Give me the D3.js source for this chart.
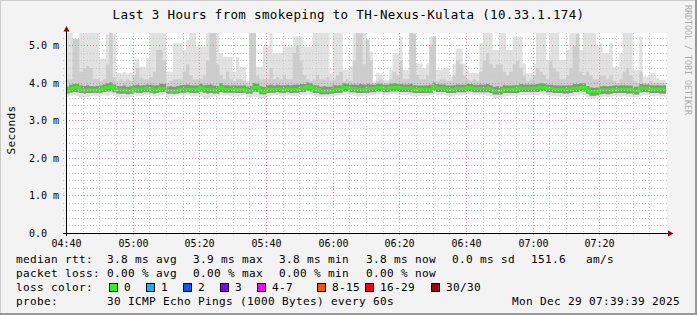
<!DOCTYPE html>
<html>
<head>
<meta charset="utf-8">
<script src="https://d3js.org/d3.v7.min.js"></script>
<style>
  body { margin: 0; background: #f3f3f3; }
  svg text { font-family: "DejaVu Sans Mono", monospace; fill: #000; }
</style>
</head>
<body>
<script>
// ---- chart values ----
const title = "Last 3 Hours from smokeping to TH-Nexus-Kulata (10.33.1.174)";
const yTicks = [0, 1, 2, 3, 4, 5];
const yTickLabels = ["0.0", "1.0 m", "2.0 m", "3.0 m", "4.0 m", "5.0 m"];
const yMax = 5.333;
const startTime = new Date(2025, 11, 29, 4, 40);
const endTime = new Date(2025, 11, 29, 7, 40);

// one value per minute (ms)
const medianRtt = [
  3.79,3.85,3.87,3.87,3.81,3.81,3.81,3.81,3.81,3.81,
  3.83,3.86,3.88,3.90,3.86,3.81,3.81,3.81,3.79,3.79,
  3.84,3.84,3.83,3.84,3.85,3.84,3.81,3.81,3.86,3.86,
  3.80,3.80,3.79,3.80,3.83,3.83,3.83,3.83,3.83,3.83,
  3.875,3.83,3.83,3.83,3.81,3.81,3.88,3.83,3.83,3.83,
  3.83,3.83,3.82,3.83,3.79,3.79,3.88,3.88,3.79,3.77,
  3.83,3.83,3.83,3.84,3.83,3.83,3.84,3.83,3.83,3.83,
  3.86,3.86,3.90,3.88,3.83,3.83,3.79,3.79,3.79,3.79,
  3.83,3.83,3.83,3.88,3.88,3.85,3.85,3.83,3.83,3.83,
  3.85,3.85,3.85,3.88,3.88,3.85,3.85,3.88,3.88,3.88,
  3.86,3.86,3.86,3.86,3.83,3.83,3.83,3.83,3.83,3.83,
  3.90,3.86,3.86,3.86,3.83,3.83,3.83,3.85,3.85,3.85,
  3.875,3.875,3.85,3.85,3.85,3.85,3.85,3.83,3.79,3.79,
  3.79,3.83,3.83,3.83,3.83,3.83,3.86,3.86,3.86,3.86,
  3.86,3.86,3.88,3.88,3.85,3.85,3.83,3.83,3.83,3.83,
  3.83,3.83,3.86,3.86,3.88,3.88,3.81,3.77,3.77,3.77,
  3.81,3.81,3.81,3.81,3.83,3.83,3.83,3.83,3.83,3.83,
  3.79,3.79,3.86,3.86,3.86,3.83,3.83,3.83,3.83,3.83
];
const maxRtt = [
  5.6,5.6,5.17,5.17,5.6,5.6,5.6,5.6,5.6,5.6,
  4.65,4.65,5.3,5.6,5.3,4.26,4.26,4.3,4.25,4.28,
  4.56,4.63,4.43,4.43,4.66,5.6,5.6,5.6,5.6,5.6,
  4.3,4.3,5.06,5.06,5.06,4.88,5.15,5.6,5.6,4.97,
  4.97,4.97,5.6,5.6,5.6,5.6,4.79,4.7,4.7,4.7,
  4.3,4.7,4.43,4.43,4.05,5.6,5.6,4.43,4.43,4.97,
  4.97,5.6,4.79,4.79,4.79,4.97,4.97,4.97,5.24,5.24,
  5.24,4.97,4.97,4.97,5.6,5.6,5.6,5.6,5.6,4.26,
  5.6,5.6,5.6,4.35,4.35,4.43,5.6,5.6,5.6,5.6,
  5.15,4.84,4.04,4.26,4.26,4.08,4.08,4.35,4.79,4.79,
  5.24,4.35,4.35,5.6,5.6,4.52,4.52,4.39,4.52,5.24,
  5.24,4.35,4.35,4.39,4.39,4.17,4.52,4.92,4.92,4.52,
  4.35,4.26,4.26,4.26,5.06,5.6,5.6,5.6,4.88,4.88,
  5.6,5.6,4.88,4.88,5.24,5.24,5.24,4.52,4.26,4.26,
  4.52,5.6,5.6,5.6,4.61,5.6,5.6,5.6,4.61,4.61,
  4.88,5.6,5.6,5.6,4.88,5.6,5.6,5.6,5.6,4.97,
  5.06,4.79,4.79,5.06,4.43,4.43,4.79,5.6,5.6,5.6,
  4.35,4.35,5.24,4.17,4.17,4.26,4.26,4.13,4.08,4.08
];
const upperRtt = [
  4.1,4.1,5.17,5.17,4.3,4.4,4.45,4.4,4.1,4.1,
  4.05,4.1,4.5,5.6,4.15,4.05,4.1,4.05,4.1,4.05,
  4.2,4.4,4.15,4.1,4.1,4.15,4.3,4.88,4.88,4.6,
  4.0,4.05,4.1,4.1,4.1,4.3,4.5,4.2,4.1,4.1,
  4.1,4.2,4.6,5.6,5.6,4.5,4.2,4.1,4.3,4.1,
  4.05,4.1,4.1,4.05,4.0,5.6,5.4,4.2,4.1,4.1,
  4.1,4.4,4.1,4.15,4.1,4.2,4.1,4.1,4.8,5.0,
  4.6,4.2,4.1,4.05,4.1,4.2,4.1,4.1,4.15,4.05,
  4.1,4.2,4.3,4.05,4.1,4.05,4.6,5.6,5.6,4.5,
  5.15,4.6,4.0,4.05,4.1,4.0,4.0,4.1,4.3,4.2,
  4.6,4.1,4.1,5.6,5.3,4.2,4.1,4.1,4.2,5.0,
  5.24,4.05,4.1,4.1,4.05,4.05,4.2,4.6,4.5,4.2,
  4.1,4.05,4.1,4.05,4.3,4.6,4.8,4.5,4.4,4.5,
  4.5,4.3,4.2,4.3,4.5,4.6,4.4,4.2,4.05,4.1,
  4.2,4.4,4.3,4.2,4.1,4.6,4.4,4.3,4.1,4.1,
  4.2,4.4,5.0,5.3,4.3,4.2,4.3,4.2,4.1,4.1,
  4.2,4.2,4.1,4.2,4.05,4.0,4.1,4.3,4.4,4.2,
  4.05,4.0,4.3,4.0,4.0,4.05,4.0,4.0,4.0,4.0
];
const coreHigh = [
  3.90,3.95,3.97,3.98,3.93,3.92,3.94,3.92,3.91,3.92,
  3.93,3.96,3.99,4.02,3.96,3.92,3.91,3.93,3.90,3.91,
  3.94,3.95,3.93,3.94,3.96,3.95,3.93,3.94,3.98,3.97,
  3.90,3.91,3.90,3.92,3.94,3.95,3.96,3.94,3.93,3.94,
  3.98,3.94,3.95,3.96,3.93,3.92,3.99,3.94,3.94,3.93,
  3.94,3.93,3.93,3.94,3.90,3.92,4.00,3.98,3.91,3.89,
  3.94,3.95,3.93,3.95,3.94,3.94,3.95,3.94,3.95,3.96,
  3.97,3.97,4.01,3.99,3.94,3.93,3.90,3.91,3.90,3.90,
  3.94,3.93,3.94,3.99,3.98,3.96,3.96,3.95,3.97,3.96,
  3.98,3.96,3.95,3.98,3.98,3.95,3.95,3.98,3.99,3.98,
  3.97,3.96,3.96,3.98,3.94,3.93,3.93,3.93,3.94,3.95,
  4.01,3.97,3.96,3.96,3.93,3.93,3.94,3.96,3.95,3.95,
  3.98,3.97,3.95,3.95,3.96,3.96,3.97,3.94,3.90,3.91,
  3.90,3.94,3.93,3.93,3.94,3.94,3.97,3.96,3.96,3.96,
  3.96,3.97,3.99,3.98,3.96,3.95,3.94,3.93,3.93,3.93,
  3.93,3.94,3.97,3.97,3.99,3.99,3.92,3.88,3.87,3.88,
  3.91,3.92,3.91,3.92,3.93,3.93,3.94,3.94,3.93,3.93,
  3.90,3.90,3.97,3.96,3.96,3.94,3.93,3.94,3.93,3.93
];
const coreLow = [
  3.72,3.74,3.76,3.75,3.73,3.72,3.73,3.73,3.74,3.73,
  3.74,3.76,3.77,3.78,3.75,3.72,3.71,3.72,3.70,3.71,
  3.75,3.74,3.73,3.75,3.75,3.74,3.72,3.73,3.76,3.76,
  3.71,3.72,3.71,3.72,3.74,3.74,3.75,3.74,3.73,3.74,
  3.77,3.74,3.72,3.73,3.72,3.71,3.76,3.74,3.74,3.74,
  3.74,3.73,3.73,3.74,3.71,3.71,3.77,3.76,3.70,3.69,
  3.73,3.74,3.74,3.75,3.74,3.74,3.75,3.73,3.74,3.74,
  3.76,3.76,3.79,3.77,3.73,3.73,3.70,3.70,3.70,3.71,
  3.73,3.73,3.74,3.77,3.77,3.75,3.75,3.73,3.73,3.74,
  3.74,3.75,3.75,3.77,3.77,3.75,3.75,3.77,3.77,3.77,
  3.76,3.76,3.76,3.75,3.73,3.73,3.73,3.73,3.73,3.74,
  3.79,3.76,3.76,3.76,3.73,3.73,3.73,3.75,3.75,3.75,
  3.77,3.77,3.75,3.75,3.75,3.75,3.75,3.73,3.69,3.69,
  3.69,3.73,3.73,3.73,3.73,3.73,3.76,3.76,3.76,3.76,
  3.76,3.76,3.78,3.78,3.75,3.75,3.73,3.73,3.73,3.72,
  3.72,3.73,3.76,3.76,3.78,3.77,3.71,3.66,3.66,3.67,
  3.70,3.71,3.70,3.71,3.73,3.73,3.73,3.73,3.72,3.72,
  3.69,3.69,3.75,3.76,3.75,3.73,3.73,3.73,3.72,3.72
];
const minRtt = [
  3.64,3.66,3.68,3.65,3.60,3.61,3.63,3.64,3.66,3.65,
  3.66,3.67,3.66,3.69,3.66,3.62,3.60,3.61,3.60,3.62,
  3.67,3.66,3.65,3.67,3.68,3.66,3.64,3.65,3.68,3.69,
  3.62,3.63,3.64,3.66,3.67,3.66,3.67,3.66,3.65,3.66,
  3.64,3.60,3.59,3.62,3.65,3.66,3.68,3.66,3.67,3.66,
  3.66,3.65,3.66,3.67,3.62,3.61,3.63,3.62,3.60,3.60,
  3.64,3.66,3.67,3.67,3.66,3.66,3.67,3.66,3.65,3.66,
  3.68,3.67,3.69,3.68,3.65,3.64,3.62,3.63,3.63,3.64,
  3.65,3.66,3.67,3.68,3.69,3.67,3.66,3.64,3.65,3.66,
  3.66,3.67,3.68,3.69,3.69,3.68,3.68,3.69,3.70,3.69,
  3.68,3.67,3.68,3.66,3.64,3.65,3.66,3.65,3.66,3.67,
  3.70,3.68,3.67,3.68,3.66,3.65,3.66,3.67,3.67,3.68,
  3.69,3.69,3.67,3.68,3.67,3.67,3.66,3.64,3.60,3.60,
  3.61,3.64,3.65,3.66,3.66,3.66,3.68,3.68,3.68,3.68,
  3.68,3.68,3.70,3.69,3.67,3.66,3.65,3.64,3.63,3.63,
  3.63,3.64,3.66,3.67,3.69,3.68,3.62,3.58,3.58,3.59,
  3.62,3.63,3.62,3.63,3.65,3.64,3.64,3.65,3.63,3.62,
  3.61,3.61,3.66,3.67,3.67,3.65,3.65,3.66,3.64,3.64
];

const statsRtt = ["3.8 ms avg", "3.9 ms max", "3.8 ms min", "3.8 ms now", "0.0 ms sd", "151.6", "am/s"];
const statsLoss = ["0.00 % avg", "0.00 % max", "0.00 % min", "0.00 % now"];
const lossLabels = ["0", "1", "2", "3", "4-7", "8-15", "16-29", "30/30"];
const lossColors = ["#26ff00", "#00b8ff", "#0059ff", "#7e00ff", "#ff00ff", "#ff5500", "#ff0000", "#a10000"];
const probeText = "30 ICMP Echo Pings (1000 Bytes) every 60s";
const stampText = "Mon Dec 29 07:39:39 2025";

// ---- drawing ----
const W = 697, H = 315;
const plot = { left: 67, right: 667, top: 33, bottom: 233 };

const svg = d3.select('body').append('svg')
  .attr('width', W).attr('height', H);

svg.append('rect').attr('width', W).attr('height', H).attr('fill', '#f3f3f3');
// frame shading
svg.append('rect').attr('x', 0).attr('y', 0).attr('width', W).attr('height', 1).attr('fill', '#cbcbcb');
svg.append('rect').attr('x', 0).attr('y', 0).attr('width', 1).attr('height', H).attr('fill', '#cbcbcb');
svg.append('rect').attr('x', W - 2).attr('y', 0).attr('width', 2).attr('height', H).attr('fill', '#999');
svg.append('rect').attr('x', 0).attr('y', H - 2).attr('width', W).attr('height', 2).attr('fill', '#999');

const x = d3.scaleTime().domain([startTime, endTime]).range([66, 666]);
const y = d3.scaleLinear().domain([0, yMax]).range([plot.bottom, plot.top]);

svg.append('rect')
  .attr('x', plot.left).attr('y', plot.top)
  .attr('width', plot.right - plot.left).attr('height', plot.bottom - plot.top)
  .attr('fill', '#fff');

svg.append('clipPath').attr('id', 'clip')
  .append('rect')
  .attr('x', plot.left).attr('y', plot.top)
  .attr('width', plot.right - plot.left).attr('height', plot.bottom - plot.top);

const g = svg.append('g').attr('clip-path', 'url(#clip)');

// step areas, one column per minute
const idx = d3.range(medianRtt.length + 1);
const at = (arr, i) => arr[Math.min(i, arr.length - 1)];
const tx = i => x(d3.timeMinute.offset(startTime, i));

function band(lo, hi, color) {
  const area = d3.area().curve(d3.curveStepAfter)
    .x(tx).y0(i => y(at(lo, i))).y1(i => y(at(hi, i)));
  g.append('path').attr('d', area(idx)).attr('fill', color);
}
band(minRtt, maxRtt, '#e1e1e1');
band(coreLow, upperRtt, '#cdcdcd');
band(coreLow, coreHigh, '#8e8e8e');

// grid
const snap = v => Math.round(v) + 0.5;
const minorX = d3.timeMinute.every(5).range(startTime, endTime);
minorX.forEach(t => {
  const major = t.getMinutes() % 20 === 0;
  svg.append('line')
    .attr('x1', snap(x(t))).attr('x2', snap(x(t)))
    .attr('y1', plot.top).attr('y2', plot.bottom + (major ? 3 : 2))
    .attr('stroke', major ? '#f08a8a' : '#c8c8c8')
    .attr('stroke-dasharray', '1,2');
});
d3.range(0, yMax, 0.2).forEach(v => {
  const major = Math.abs(v - Math.round(v)) < 1e-6;
  svg.append('line')
    .attr('x1', 63).attr('x2', plot.right + 2)
    .attr('y1', snap(y(v))).attr('y2', snap(y(v)))
    .attr('stroke', major ? '#f08a8a' : '#c8c8c8')
    .attr('stroke-dasharray', '1,2');
});

// median line
const line = d3.line().curve(d3.curveStepAfter)
  .x(tx).y(i => y(at(medianRtt, i)));
g.append('path').attr('d', line(idx))
  .attr('fill', 'none').attr('stroke', '#26ff00').attr('stroke-width', 3);

// axes
svg.append('line').attr('x1', 63).attr('x2', 669).attr('y1', 233.5).attr('y2', 233.5)
  .attr('stroke', '#000');
svg.append('line').attr('x1', 66.5).attr('x2', 66.5).attr('y1', 236).attr('y2', 30)
  .attr('stroke', '#000');
svg.append('path').attr('d', 'M63.5,31.5L69.5,31.5L66.5,26Z').attr('fill', '#9b0000');
svg.append('path').attr('d', 'M668,230.5L668,236.5L673.5,233.5Z').attr('fill', '#9b0000');

// tick labels
svg.selectAll('.ylab').data(yTicks).enter().append('text')
  .attr('x', 29).attr('y', d => snap(y(d)) + 3)
  .attr('font-size', 10)
  .text((d, i) => yTickLabels[i]);

const majorX = d3.timeMinute.every(20).range(startTime, endTime);
svg.selectAll('.xlab').data(majorX).enter().append('text')
  .attr('x', d => snap(x(d))).attr('y', 246.5)
  .attr('text-anchor', 'middle').attr('font-size', 10)
  .text(d3.timeFormat('%H:%M'));

// title, axis label, watermark
svg.append('text').attr('x', 348.5).attr('y', 18.5)
  .attr('text-anchor', 'middle')
  .attr('font-size', 12.5).attr('letter-spacing', 0.34)
  .text(title);
svg.append('text')
  .attr('transform', 'translate(15,130) rotate(-90)')
  .attr('text-anchor', 'middle').attr('font-size', 11.1).attr('letter-spacing', 0.32)
  .text('Seconds');
svg.append('text')
  .attr('transform', 'translate(685,5) rotate(90)')
  .attr('font-size', 8.3).style('fill', '#ababab')
  .text('RRDTOOL / TOBI OETIKER');

// legend
const leg = svg.append('g').attr('font-size', 11.1).attr('letter-spacing', 0.32);
const row = [263, 277, 291, 305];
const colX = [107, 193, 279, 366, 452, 531, 586];
leg.append('text').attr('x', 16).attr('y', row[0]).text('median rtt:');
statsRtt.forEach((s, i) => leg.append('text').attr('x', colX[i]).attr('y', row[0]).text(s));
leg.append('text').attr('x', 16).attr('y', row[1]).text('packet loss:');
statsLoss.forEach((s, i) => leg.append('text').attr('x', colX[i]).attr('y', row[1]).text(s));
leg.append('text').attr('x', 16).attr('y', row[2]).text('loss color:');
const swX = [109, 146, 183, 220, 257, 317, 365, 431];
lossLabels.forEach((s, i) => {
  leg.append('rect').attr('x', swX[i] + 0.5).attr('y', 283.5).attr('width', 8).attr('height', 8)
    .attr('fill', lossColors[i]).attr('stroke', '#000');
  leg.append('text').attr('x', swX[i] + 15).attr('y', row[2]).text(s);
});
leg.append('text').attr('x', 16).attr('y', row[3]).text('probe:');
leg.append('text').attr('x', 107).attr('y', row[3]).text(probeText);
leg.append('text').attr('x', 680).attr('y', row[3]).attr('text-anchor', 'end').text(stampText);
</script>
</body>
</html>
